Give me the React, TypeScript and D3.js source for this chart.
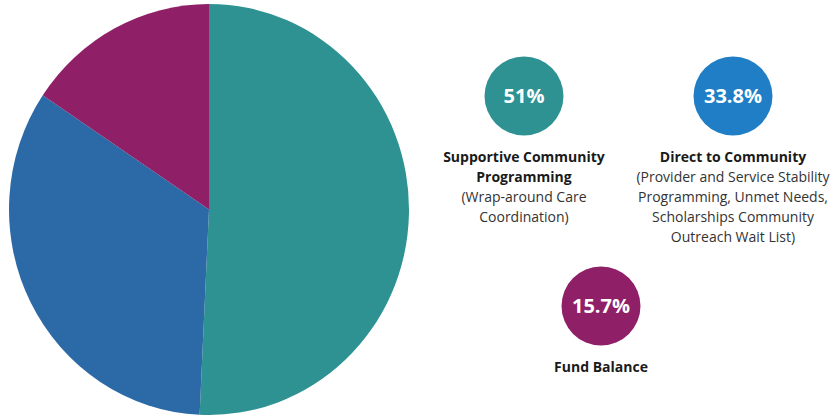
import React from "react";
import * as d3 from "d3";

const categories = ["Supportive Community Programming", "Direct to Community", "Fund Balance"];
const values = [51, 33.8, 15.7];
const valueLabels = ["51%", "33.8%", "15.7%"];
const titleLines = [["Supportive Community", "Programming"], ["Direct to Community"], ["Fund Balance"]];
const descLines = [
  ["(Wrap-around Care", "Coordination)"],
  ["(Provider and Service Stability", "Programming, Unmet Needs,", "Scholarships Community", "Outreach Wait List)"],
  [],
];
const pieColors = ["#2e9292", "#2b6aa6", "#8f1f67"];
const badgeColors = ["#2e9292", "#1f7ec5", "#8f1f67"];

const badgePos = [
  { x: 524, y: 96 },
  { x: 733, y: 96 },
  { x: 601, y: 306 },
];

export default function App() {
  const W = 835, H = 417;
  const cx = 209, cy = 209.5, rx = 200, ry = 205.5;
  const pie = d3.pie<number>().sort(null).value((d) => d);
  const arcs = pie(values);
  const arcGen = d3.arc<d3.PieArcDatum<number>>().innerRadius(0).outerRadius(rx);
  const font = "'Open Sans', 'Noto Sans', sans-serif";
  const lineH = 20;

  return (
    <svg width={W} height={H} style={{ position: "absolute", left: 0, top: 0, background: "#fff" }}>
      <g transform={`translate(${cx},${cy}) scale(1,${ry / rx})`}>
        {arcs.map((a, i) => (
          <path key={categories[i]} d={arcGen(a) || ""} fill={pieColors[i]} />
        ))}
      </g>
      {categories.map((c, i) => {
        const p = badgePos[i];
        const titleY = p.y + 61;
        return (
          <g key={c} fontFamily={font}>
            <circle cx={p.x} cy={p.y} r={39.5} fill={badgeColors[i]} />
            <text x={p.x} y={p.y + 7} textAnchor="middle" fill="#fff" fontWeight={700} fontSize={20}>
              {valueLabels[i]}
            </text>
            {titleLines[i].map((t, j) => (
              <text key={"t" + j} x={p.x} y={titleY + 5 + j * lineH} textAnchor="middle" fill="#1a1a1a" fontWeight={700} fontSize={14}>
                {t}
              </text>
            ))}
            {descLines[i].map((t, j) => (
              <text key={"d" + j} x={p.x} y={titleY + 5 + (titleLines[i].length + j) * lineH} textAnchor="middle" fill="#333" fontWeight={400} fontSize={14}>
                {t}
              </text>
            ))}
          </g>
        );
      })}
    </svg>
  );
}
